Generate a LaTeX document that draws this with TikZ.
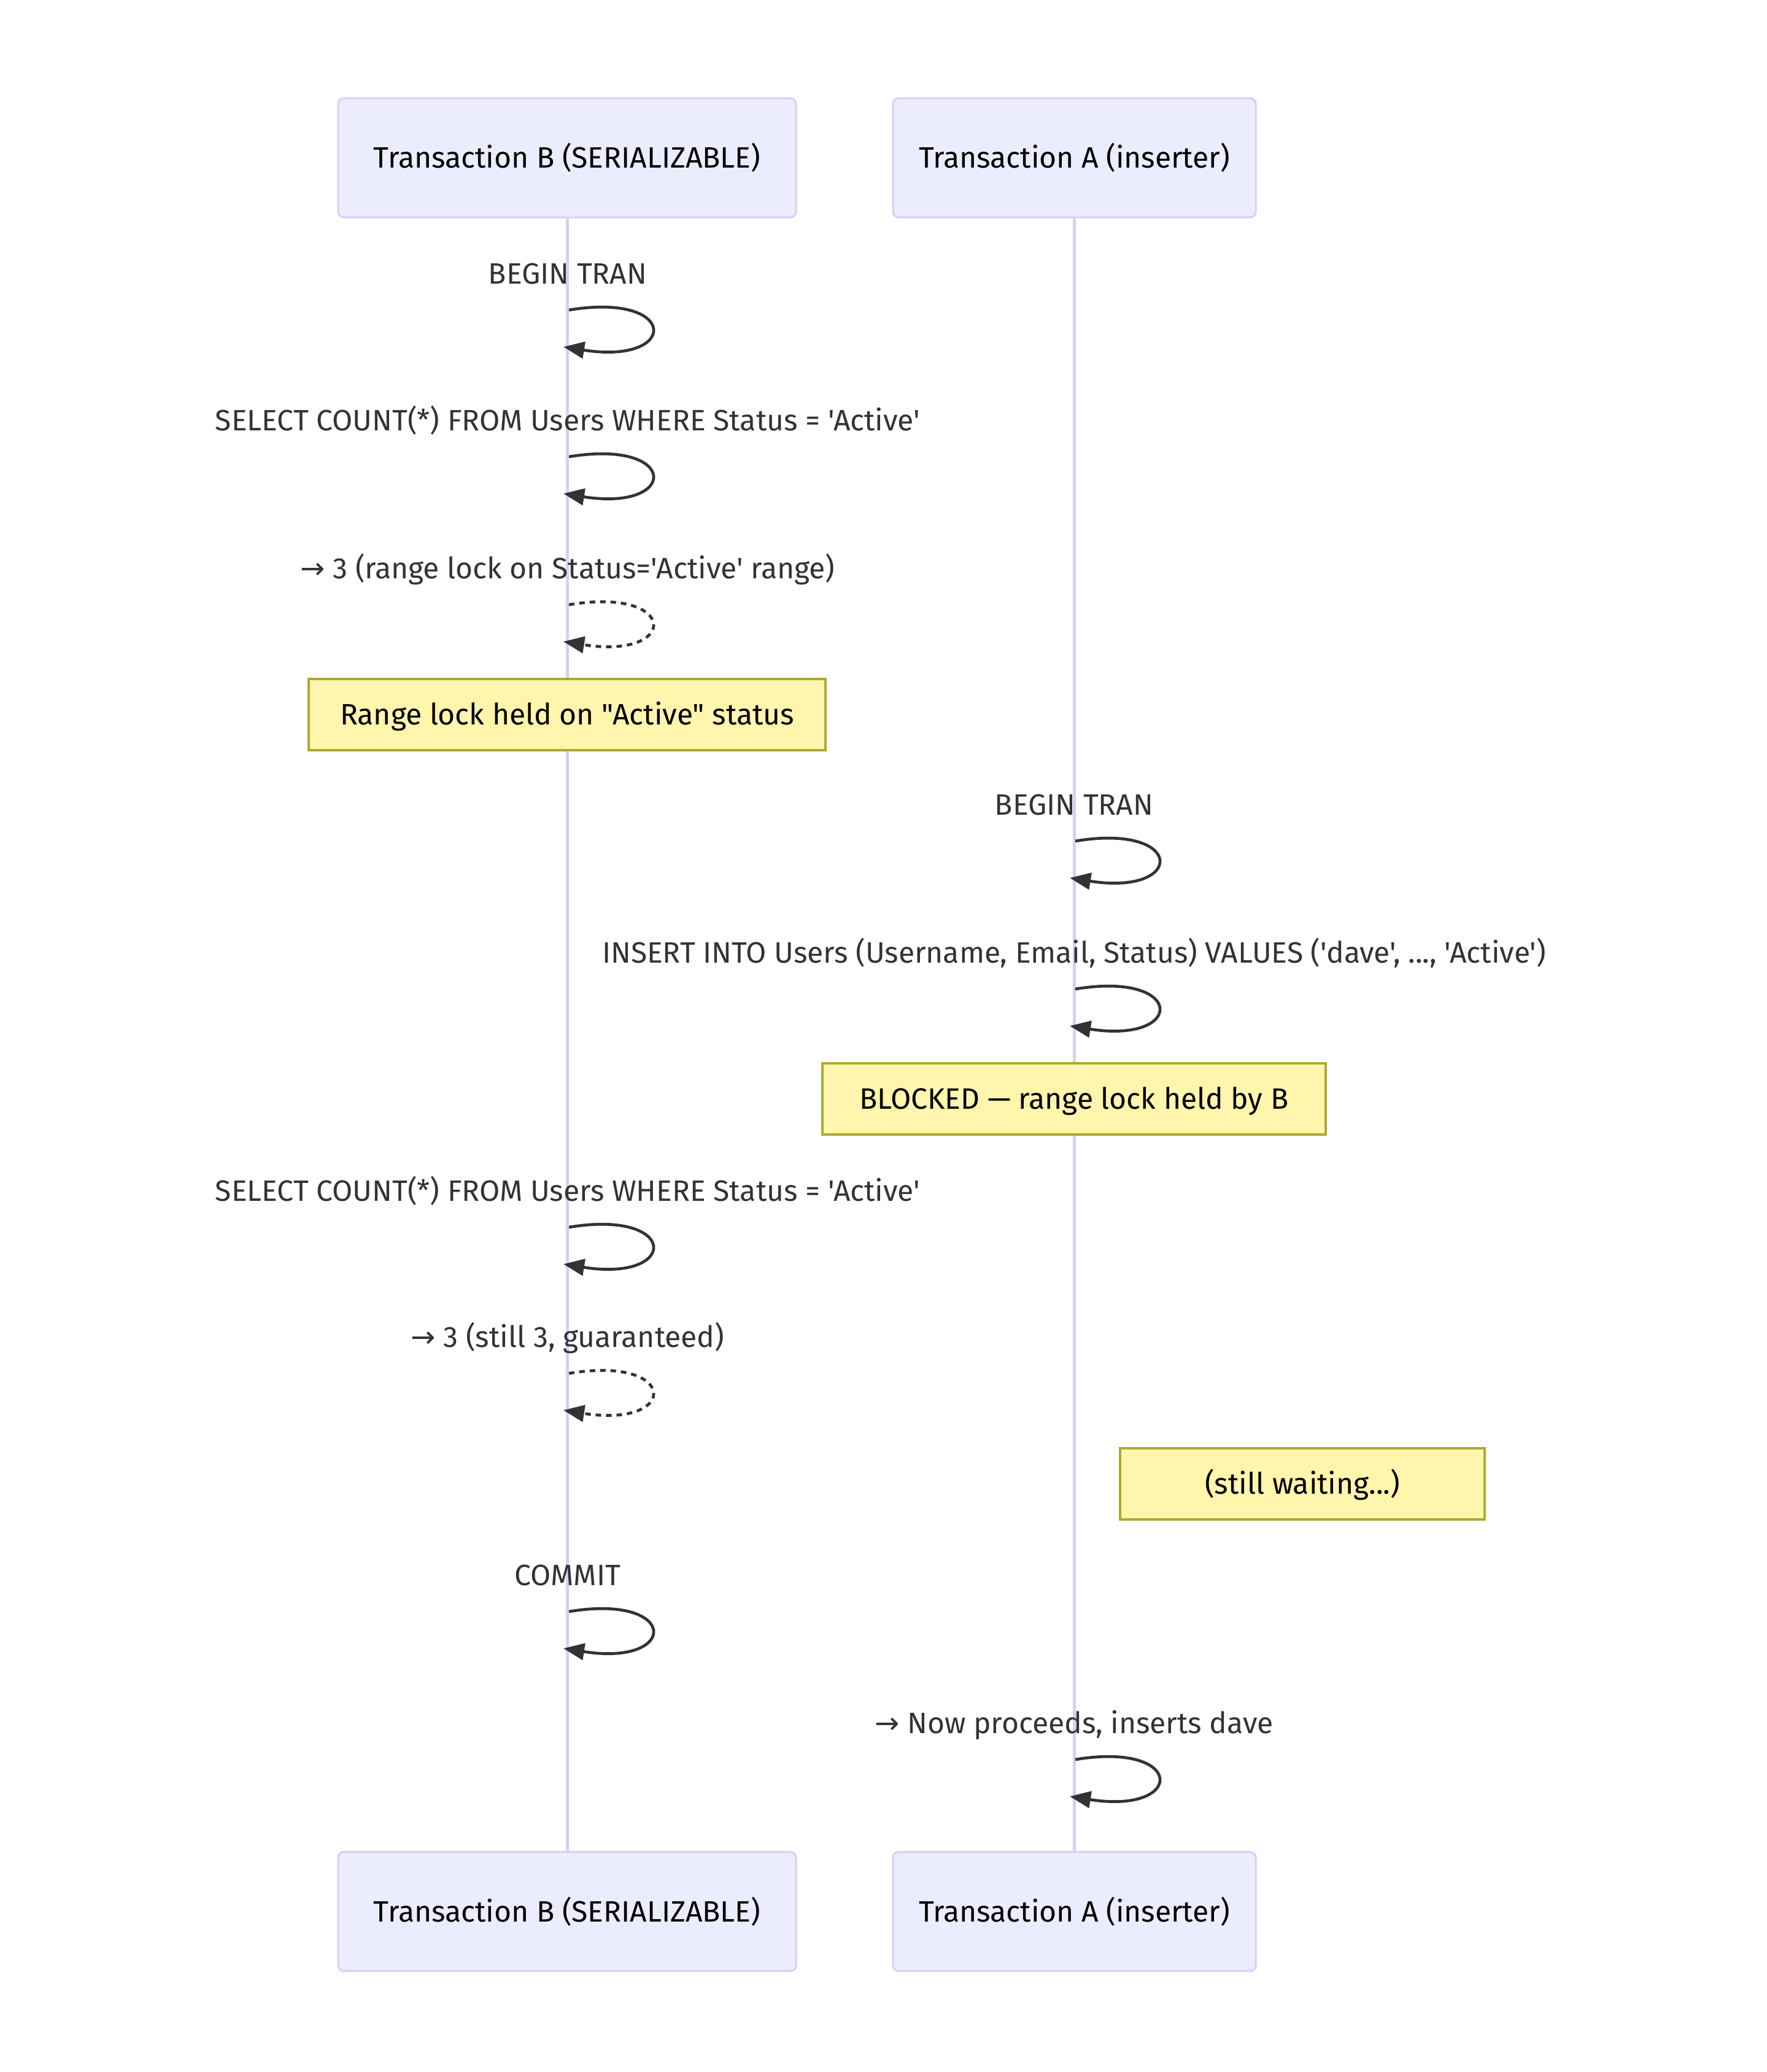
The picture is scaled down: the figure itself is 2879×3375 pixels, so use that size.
\documentclass[tikz,border=0pt]{standalone}
\usepackage{fontspec}
\newfontfamily\mfont{Fira Sans}
\newfontfamily\arrfont{DejaVu Sans}
\usetikzlibrary{arrows.meta}
\definecolor{actorbg}{HTML}{ECECFF}
\definecolor{actorln}{HTML}{DACEF3}
\definecolor{notebg}{HTML}{FFF5AD}
\definecolor{noteln}{HTML}{AAAA33}
\definecolor{msgc}{HTML}{333333}
\tikzset{
  actorbox/.style={draw=actorln, fill=actorbg, line width=3pt, rounded corners=9pt,
    minimum width=#1, minimum height=194pt, inner sep=0pt, text=black,
    text height=33pt, text depth=0pt},
  notebox/.style={draw=noteln, fill=notebg, line width=3.5pt,
    minimum width=#1, minimum height=116pt, inner sep=0pt, text=black,
    text height=33pt, text depth=0pt},
  lifeline/.style={draw=actorln, line width=5pt},
  msgtext/.style={anchor=base, text=msgc, inner sep=0pt},
  selfloop/.style={draw=msgc, line width=4.7pt, -{Triangle[length=34pt,width=27pt]}},
  selfloopdash/.style={selfloop, dash pattern=on 9pt off 8pt},
}
\begin{document}
\begin{tikzpicture}[x=1pt, y=-1pt, font=\mfont\fontsize{48}{58}\selectfont]
\fill[white] (0,0) rectangle (2879,3375);
\useasboundingbox (0,0) rectangle (2879,3375);

% actors
\node[actorbox=746pt] (Btop) at (924,257) {Transaction B (SERIALIZABLE)};
\node[actorbox=591pt] (Atop) at (1750.5,257) {Transaction A (inserter)};
\node[actorbox=746pt] (Bbot) at (924,3113.5) {Transaction B (SERIALIZABLE)};
\node[actorbox=591pt] (Abot) at (1750.5,3113.5) {Transaction A (inserter)};

% lifelines
\draw[lifeline] (Btop.south) -- (Bbot.north);
\draw[lifeline] (Atop.south) -- (Abot.north);

% messages (B lifeline x=925, A lifeline x=1750)
\node[msgtext] (t1) at (925,462) {BEGIN TRAN};
\coordinate (m1s) at (927,505); \coordinate (m1e) at (918,565);
\draw[selfloop] (m1s) .. controls +(180,-30) and +(189,30) .. (m1e);

\node[msgtext] (t2) at (925,701) {SELECT COUNT(*) FROM Users WHERE Status = 'Active'};
\coordinate (m2s) at (927,744); \coordinate (m2e) at (918,804);
\draw[selfloop] (m2s) .. controls +(180,-30) and +(189,30) .. (m2e);

\node[msgtext] (t3) at (925,942) {{\arrfont →} 3 (range lock on Status='Active' range)};
\coordinate (m3s) at (927,985); \coordinate (m3e) at (918,1045);
\draw[selfloopdash] (m3s) .. controls +(180,-30) and +(189,30) .. (m3e);

\node[notebox=842pt] (n1) at (924,1164) {Range lock held on "Active" status};

\node[msgtext] (t4) at (1750,1327) {BEGIN TRAN};
\coordinate (m4s) at (1752,1370); \coordinate (m4e) at (1743,1430);
\draw[selfloop] (m4s) .. controls +(180,-30) and +(189,30) .. (m4e);

\node[msgtext] (t5) at (1750,1568) {INSERT INTO Users (Username, Email, Status) VALUES ('dave', ..., 'Active')};
\coordinate (m5s) at (1752,1611); \coordinate (m5e) at (1743,1671);
\draw[selfloop] (m5s) .. controls +(180,-30) and +(189,30) .. (m5e);

\node[notebox=820pt] (n2) at (1750,1790) {BLOCKED — range lock held by B};

\node[msgtext] (t6) at (925,1956) {SELECT COUNT(*) FROM Users WHERE Status = 'Active'};
\coordinate (m6s) at (927,1999); \coordinate (m6e) at (918,2059);
\draw[selfloop] (m6s) .. controls +(180,-30) and +(189,30) .. (m6e);

\node[msgtext] (t7) at (925,2194) {{\arrfont →} 3 (still 3, guaranteed)};
\coordinate (m7s) at (927,2237); \coordinate (m7e) at (918,2297);
\draw[selfloopdash] (m7s) .. controls +(180,-30) and +(189,30) .. (m7e);

\node[notebox=594pt] (n3) at (2122,2417) {(still waiting...)};

\node[msgtext] (t8) at (925,2582) {COMMIT};
\coordinate (m8s) at (927,2625); \coordinate (m8e) at (918,2685);
\draw[selfloop] (m8s) .. controls +(180,-30) and +(189,30) .. (m8e);

\node[msgtext] (t9) at (1750,2823) {{\arrfont →} Now proceeds, inserts dave};
\coordinate (m9s) at (1752,2866); \coordinate (m9e) at (1743,2926);
\draw[selfloop] (m9s) .. controls +(180,-30) and +(189,30) .. (m9e);
\end{tikzpicture}
\end{document}
